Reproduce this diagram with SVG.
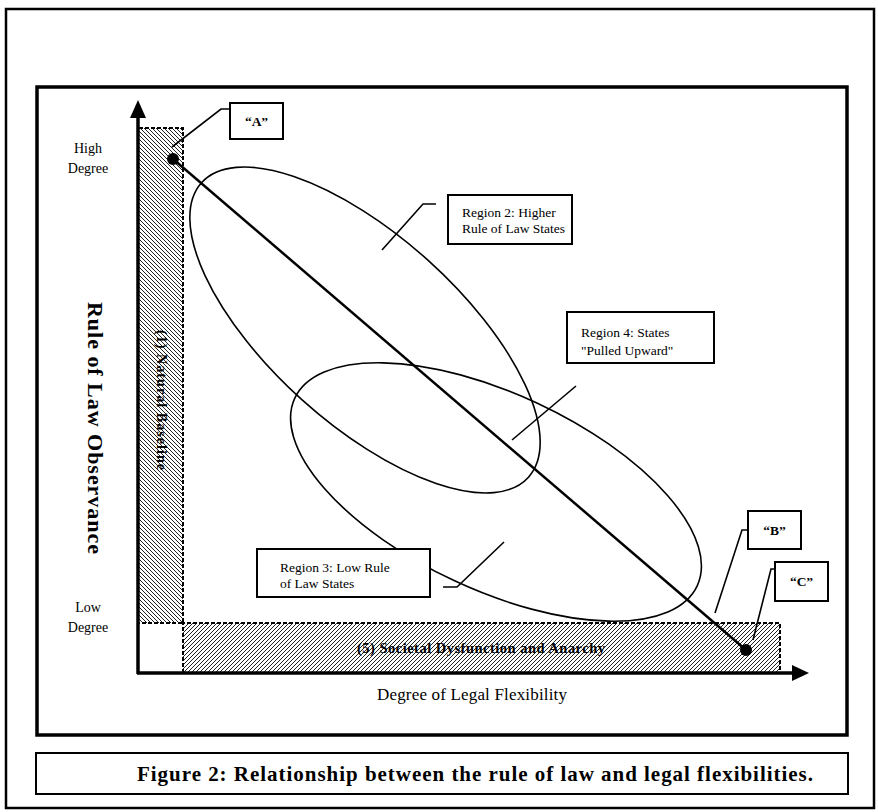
<svg xmlns="http://www.w3.org/2000/svg" width="878" height="812" viewBox="0 0 878 812">
<defs>
<pattern id="hb" width="4" height="4" patternUnits="userSpaceOnUse">
<rect width="4" height="4" fill="#fff"/>
<path d="M-1,-1 L5,5 M-1,3 L1,5 M3,-1 L5,1" stroke="#222" stroke-width="1"/>
</pattern>
<pattern id="hf" width="4" height="4" patternUnits="userSpaceOnUse">
<rect width="4" height="4" fill="#fff"/>
<path d="M-1,5 L5,-1 M-1,1 L1,-1 M3,5 L5,3" stroke="#222" stroke-width="1"/>
</pattern>
</defs>
<style>
.frame{fill:none;stroke:#000}
.box{fill:#fff;stroke:#000;stroke-width:2}
.dash{fill:none;stroke:#000;stroke-width:2;stroke-dasharray:4 2}
.ell{fill:none;stroke:#000;stroke-width:1.6}
.lead{fill:none;stroke:#000;stroke-width:1.6}
.t{font-family:"Liberation Serif","Times New Roman",serif;fill:#000}
.b{font-weight:bold}
.axis{stroke:#000;stroke-width:3.5;fill:none}
</style>
<rect class="frame" x="6" y="9" width="868" height="799" stroke-width="2.5"/>
<rect class="frame" x="37" y="87" width="810" height="648" stroke-width="3.5"/>

<g id="natural-baseline">
<rect x="139" y="128" width="44" height="495" fill="url(#hb)"/>
<path class="dash" d="M139,128 H183 V623 H139"/>
<text class="t b" font-size="14" transform="translate(157,400) rotate(90)" text-anchor="middle" textLength="140" lengthAdjust="spacing">(1) Natural Baseline</text>
</g>
<g id="societal-dysfunction">
<rect x="183" y="623" width="597" height="50" fill="url(#hf)"/>
<path class="dash" d="M183,673 V623 H780 V673"/>
<text class="t b" font-size="14.5" x="481" y="653" text-anchor="middle" textLength="248" lengthAdjust="spacing">(5) Societal Dysfunction and Anarchy</text>
</g>

<g id="axes">
<line class="axis" x1="138" y1="674" x2="138" y2="112"/>
<path d="M130,118 L138,100 L146,118 Z" fill="#000"/>
<line class="axis" x1="137" y1="673" x2="796" y2="673"/>
<path d="M792,665 L809,673 L792,681 Z" fill="#000"/>
<text class="t" font-size="14" x="88" y="153" text-anchor="middle">High</text>
<text class="t" font-size="14" x="88" y="173" text-anchor="middle">Degree</text>
<text class="t" font-size="14" x="88" y="612" text-anchor="middle">Low</text>
<text class="t" font-size="14" x="88" y="632" text-anchor="middle">Degree</text>
<text class="t b" font-size="22" transform="translate(88,428) rotate(90)" text-anchor="middle" textLength="252" lengthAdjust="spacing">Rule of Law Observance</text>
<text class="t" font-size="17" x="472" y="700" text-anchor="middle" textLength="190" lengthAdjust="spacing">Degree of Legal Flexibility</text>
</g>

<g id="region2-ellipse"><ellipse class="ell" cx="365" cy="330" rx="220" ry="94" transform="rotate(42 365 330)"/></g>
<g id="region3-ellipse"><ellipse class="ell" cx="496" cy="492" rx="222" ry="98" transform="rotate(25 496 492)"/></g>

<g id="connectors">
<line x1="173" y1="159" x2="746" y2="650" stroke="#000" stroke-width="2.5"/>
<circle cx="173" cy="159" r="6" fill="#000"/>
<circle cx="746" cy="650" r="6" fill="#000"/>
<path class="lead" d="M229,109 H221 L172,147"/>
<path class="lead" d="M436,204 H423 L382,250"/>
<path class="lead" d="M576,386 L512,440"/>
<path class="lead" d="M443,587 H457 L504,542"/>
<path class="lead" d="M748,530 H742 L715,613"/>
<path class="lead" d="M775,569 H771 L753,640"/>
</g>

<g id="label-A"><rect class="box" x="230" y="103" width="53" height="36"/><text class="t b" font-size="13.5" x="256.5" y="126" text-anchor="middle">“A”</text></g>
<g id="label-B"><rect class="box" x="748" y="511" width="53" height="38"/><text class="t b" font-size="13.5" x="774.5" y="535" text-anchor="middle">“B”</text></g>
<g id="label-C"><rect class="box" x="775" y="562" width="53" height="39"/><text class="t b" font-size="13.5" x="801.5" y="586" text-anchor="middle">“C”</text></g>

<g id="region2"><rect class="box" x="448" y="195" width="124" height="49"/>
<text class="t" font-size="13.5" x="462" y="217">Region 2: Higher</text>
<text class="t" font-size="13.5" x="462" y="233">Rule of Law States</text></g>
<g id="region4"><rect class="box" x="567" y="312" width="147" height="51"/>
<text class="t" font-size="13.5" x="581" y="337">Region 4: States</text>
<text class="t" font-size="13.5" x="581" y="355">"Pulled Upward"</text></g>
<g id="region3"><rect class="box" x="257" y="549" width="173" height="48"/>
<text class="t" font-size="13.5" x="280" y="572">Region 3: Low Rule</text>
<text class="t" font-size="13.5" x="280" y="588">of Law States</text></g>

<g id="caption"><rect class="box" x="36" y="753" width="812" height="41"/>
<text class="t b" font-size="21" x="137" y="781" textLength="676" lengthAdjust="spacing">Figure 2:  Relationship between the rule of law and legal flexibilities.</text></g>
</svg>
